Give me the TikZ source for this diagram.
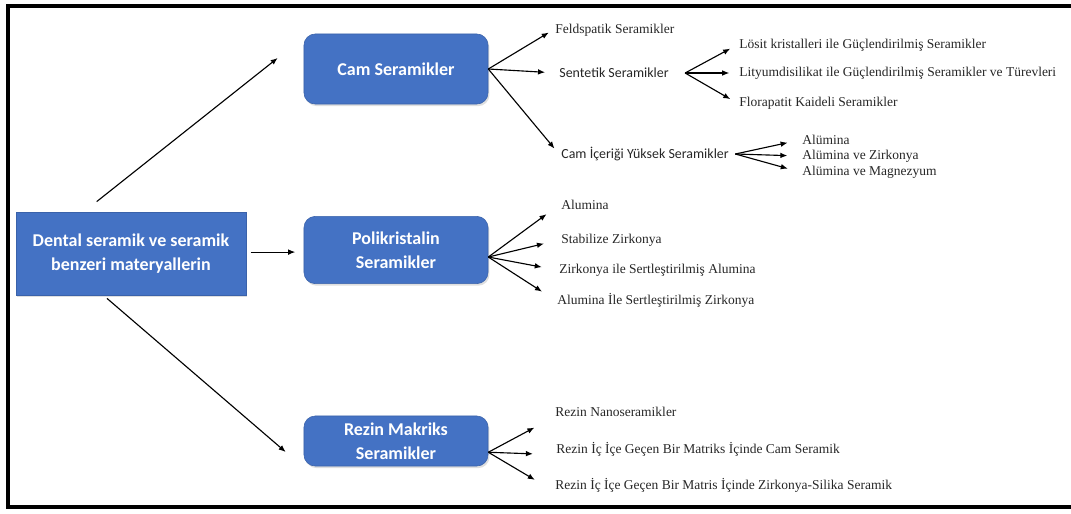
\documentclass[tikz,border=0pt]{standalone}
\usepackage{fontspec}
\setmainfont{Liberation Serif}
\newfontfamily\calfont{Carlito}
\usetikzlibrary{positioning,arrows.meta,shadows}
\definecolor{boxblue}{HTML}{4472C4}
\definecolor{boxedge}{HTML}{3A62AA}

\begin{document}
\begin{tikzpicture}[x=0.025cm, y=-0.025cm,
    mainbox/.style={rectangle, draw=boxedge, fill=boxblue, text=white, align=center,
      font=\calfont\bfseries\fontsize{12.8}{17}\selectfont,
      drop shadow={opacity=0.25, shadow xshift=1pt, shadow yshift=-1.5pt}},
    groupbox/.style={mainbox, rounded corners=0.28cm, minimum width=4.6cm},
    leaf/.style={anchor=west, inner sep=1.5pt, text=black!85,
      font=\fontsize{9.6}{10}\selectfont},
    sansleaf/.style={leaf, font=\calfont\fontsize{9.9}{10}\selectfont},
    arr/.style={-{Latex[length=5pt,width=4pt]}, line width=0.8pt}]
  \useasboundingbox (0,0) rectangle (1071,513);
  \draw[line width=2.2pt] (8,6) rectangle (1085,507);

  % main and group boxes
  \node[mainbox, minimum width=5.75cm, minimum height=2.08cm] (dental) at (131,253.5)
    {Dental seramik ve seramik\\benzeri materyallerin};
  \node[groupbox, minimum height=1.75cm] (cam) at (396,69) {Cam Seramikler};
  \node[groupbox, minimum height=1.68cm] (poli) at (396,250) {Polikristalin\\Seramikler};
  \node[groupbox, minimum height=1.25cm] (rezin) at (396,441) {Rezin Makriks\\Seramikler};

  % cam seramikler
  \node[leaf] (feld) at (553,30) {Feldspatik Seramikler};
  \node[sansleaf] (sent) at (557,73) {Sentetik Seramikler};
  \node[sansleaf] (cami) at (559,154) {Cam İçeriği Yüksek Seramikler};
  \node[leaf] (losit) at (737,45) {Lösit kristalleri ile Güçlendirilmiş Seramikler};
  \node[leaf] (lity) at (737,73) {Lityumdisilikat ile Güçlendirilmiş Seramikler ve Türevleri};
  \node[leaf] (flora) at (737,103) {Florapatit Kaideli Seramikler};
  \node[leaf] (alu1) at (800,140) {Alümina};
  \node[leaf] (alu2) at (800,156) {Alümina ve Zirkonya};
  \node[leaf] (alu3) at (800,172) {Alümina ve Magnezyum};

  % polikristalin
  \node[leaf] (pal) at (559,205) {Alumina};
  \node[leaf] (pstab) at (559,240) {Stabilize Zirkonya};
  \node[leaf] (pzta) at (557,270) {Zirkonya ile Sertleştirilmiş Alumina};
  \node[leaf] (patz) at (555,300) {Alumina İle Sertleştirilmiş Zirkonya};

  % rezin
  \node[leaf] (rnano) at (553,412) {Rezin Nanoseramikler};
  \node[leaf] (rcam) at (554,449) {Rezin İç İçe Geçen Bir Matriks İçinde Cam Seramik};
  \node[leaf] (rzirk) at (553,485) {Rezin İç İçe Geçen Bir Matris İçinde Zirkonya-Silika Seramik};

  % arrows from the main box
  \draw[arr] ([shift={(81,-10)}]dental.north west) -- ([shift={(-26,-11)}]cam.west);
  \draw[arr, shorten <=3pt, shorten >=6pt] ([yshift=1pt]dental.east) -- ([yshift=1pt]dental.east -| poli.west);
  \draw[arr] ([shift={(-24,3)}]dental.south) -- ([shift={(-18,11)}]rezin.west);

  \draw[arr, shorten >=3.5pt] (cam.east) -- (feld.west);
  \draw[arr, shorten >=8.5pt] (cam.east) -- (sent.west);
  \draw[arr, shorten >=5pt] (cam.east) -- (cami.west);
  \foreach \t in {losit,lity,flora}
    \draw[arr, shorten >=5.5pt] ([xshift=10pt]sent.east) -- (\t.west);
  \foreach \t in {alu1,alu2,alu3}
    \draw[arr, shorten >=9pt] ([xshift=3pt]cami.east) -- (\t.west);
  \foreach \t in {pal,pstab,pzta,patz}
    \draw[arr, shorten >=11pt] ([yshift=-5pt]poli.east) -- (\t.west);
  \foreach \t in {rnano,rcam,rzirk}
    \draw[arr, shorten >=15pt] ([yshift=-8pt]rezin.east) -- ([yshift=-4pt]\t.west);
\end{tikzpicture}
\end{document}
